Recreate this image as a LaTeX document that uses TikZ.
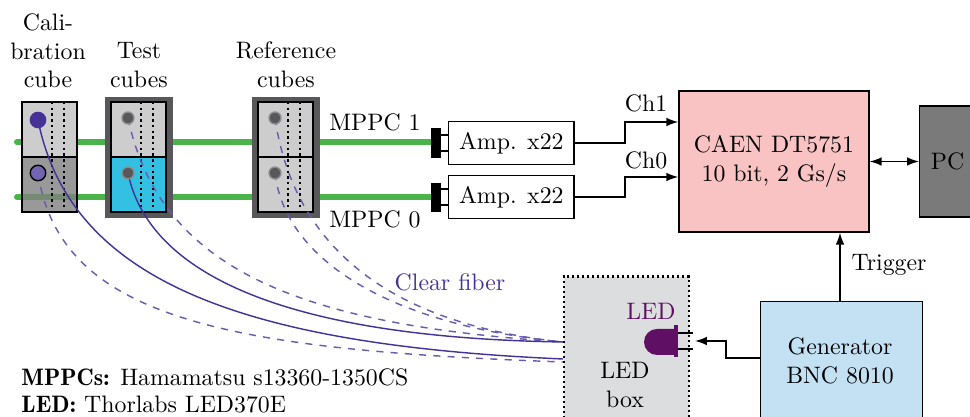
\documentclass[tikz,border=0pt]{standalone}
\usepackage{amsmath}
\usepackage{tikz}
\usetikzlibrary{arrows.meta,positioning,calc,shapes}
\definecolor{fibergreen}{RGB}{74,180,75}
\definecolor{fiberpurple}{RGB}{70,50,150}
\definecolor{ledpurple}{RGB}{95,15,100}
\definecolor{cubegray}{RGB}{205,205,205}
\definecolor{framegray}{RGB}{88,88,90}
\definecolor{testblue}{RGB}{52,192,226}
\definecolor{caenpink}{RGB}{250,195,195}
\definecolor{genblue}{RGB}{195,225,243}
\definecolor{boxgray}{RGB}{220,221,223}
\tikzset{
  cube/.style={draw=black,thick,fill=cubegray,minimum width=23.1pt,minimum height=23.1pt,inner sep=0pt},
  cubeframe/.style={fill=framegray,draw=framegray},
  sipm/.style={circle,fill=framegray,draw=black!45,semithick,minimum size=5pt,inner sep=0pt},
  solidfiber/.style={fiberpurple,semithick},
  dashfiber/.style={fiberpurple!80,semithick,dashed},
  wire/.style={draw,semithick,-{Latex[length=5pt,width=3.6pt]}},
  ampbox/.style={draw,semithick,minimum width=52.6pt,minimum height=18.2pt,inner sep=0pt}
}
\begin{document}
\begin{tikzpicture}[x=0.42pt,y=-0.42pt]
\useasboundingbox (0,0) rectangle (970,417);
\clip (0,0) rectangle (970,417);
%fibers
\draw[fibergreen,line width=2.5pt,line cap=round](17,142)--(435,142);
\draw[fibergreen,line width=2.5pt,line cap=round](17,197)--(435,197);
%calibration cube
\node[cube] (calup) at (49.5,129.5) {};
\node[cube,fill=black!50,fill opacity=.8] (callow) at (49.5,184.5) {};
%frames of test and reference cubes
\fill[cubeframe](105,97)rectangle(172,217);
\fill[cubeframe](252,97)rectangle(319,217);
\node[cube] (testup) at (138.5,129.5) {};
\node[cube,fill=testblue] (testlow) at (138.5,184.5) {};
\node[cube] (refup) at (285.5,129.5) {};
\node[cube] (reflow) at (285.5,184.5) {};
%dotted lines in cubes
\foreach \x in {52,64,141,153,288,300}
{
\draw[line width=.8pt,dash pattern=on 1pt off 1.4pt](\x,102)--(\x,212);
}
%clear fibers
\coordinate (ledin1) at (563,342);
\coordinate (ledin2) at (563,359);
\coordinate (ledin3) at (563,362);
\draw[dashfiber](128,118) .. controls (160,270) and (300,325) .. (ledin1);
\draw[dashfiber](275,118) .. controls (295,255) and (400,325) .. (ledin1);
\draw[dashfiber](275,173) .. controls (285,260) and (390,325) .. (ledin1);
\draw[dashfiber](38,173) .. controls (60,320) and (230,350) .. (ledin3);
\draw[solidfiber](38,120) .. controls (70,280) and (240,345) .. (ledin2);
\draw[solidfiber](128,173) .. controls (150,280) and (300,338) .. (ledin1);
%cube readouts
\node[circle,fill=fiberpurple,minimum size=7pt,inner sep=0pt] (called) at (38,120) {};
\node[circle,fill=fiberpurple!75,draw=black,semithick,minimum size=6.5pt,inner sep=0pt] (calmppc) at (38,173) {};
\node[sipm] (testa) at (128,118) {};
\node[sipm] (testb) at (128,173) {};
\node[sipm] (refa) at (275,118) {};
\node[sipm] (refb) at (275,173) {};
%labels
\node[align=center] at (48,51) {Cali-\\bration\\cube};
\node[align=center] at (139,65) {Test\\cubes};
\node[align=center] at (286,65) {Reference\\cubes};
\node at (375,122) {MPPC 1};
\node at (375,219) {MPPC 0};
\node[fiberpurple] at (450,282) {Clear fiber};
%amplifiers
\node[ampbox,anchor=west] (amp1) at (448,143) {Amp. x22};
\node[ampbox,anchor=west] (amp0) at (448,197) {Amp. x22};
\fill (431,128)rectangle(441,158);
\fill (431,183)rectangle(441,212);
\draw[semithick](441,135)--(448,135) (441,151)--(448,151);
\draw[semithick](441,189)--(448,189) (441,205)--(448,205);
%digitizer and pc
\node[draw,semithick,fill=caenpink,minimum width=79.8pt,minimum height=59.2pt,inner sep=0pt,align=center] (caen) at (774,161.5) {CAEN DT5751\\10 bit, 2 Gs/s};
\node[draw,semithick,fill=black!52,minimum width=25pt,minimum height=46.6pt,inner sep=0pt,anchor=west] (pc) at (919,161.5) {\hspace*{-1.6pt}PC\hfill};
\draw[wire,{Latex[length=5pt,width=3.6pt]}-{Latex[length=5pt,width=3.6pt]}](caen)--(pc);
\coordinate (ch1) at (caen.west|-0,122);
\coordinate (ch0) at (caen.west|-0,177);
\draw[wire](amp1.east)--(625,143)--(625,122)--(ch1);
\draw[wire](amp0.east)--(625,197)--(625,177)--(ch0);
\node at (646,103) {Ch1};
\node at (646,160) {Ch0};
%led box and generator
\node[draw,line width=.9pt,dash pattern=on .9pt off 1.2pt,fill=boxgray,minimum width=52.5pt,minimum height=61pt,inner sep=0pt,anchor=north west] (ledbox) at (562.5,275.5) {};
\node at (625,385) [align=center] {LED\\box};
\node[draw,semithick,fill=genblue,minimum width=68pt,minimum height=50pt,inner sep=0pt,anchor=north west,text depth=0pt] (gen) at (760,301) {};
\node[align=center] at (840,361) {Generator\\BNC 8010};
\draw[wire](gen.north-|840,0)--(caen.south-|840,0);
\node at (889,265) {Trigger};
%led
\fill[ledpurple](676,329)--(657,329) arc (90:270:13*0.42pt and 13*0.42pt)--(676,355)--cycle;
\fill[ledpurple](674,325)rectangle(678,357);
\draw[thick](678,333)--(693,333) (678,349)--(693,349);
\node[ledpurple] at (651,311) {LED};
\coordinate (ledarrow) at (695,341);
\draw[wire](gen.west|-0,358)--(726,358)--(726,341)--(ledarrow);
%notes
\node[anchor=base west,inner sep=0pt] at (21,386) {{\fontseries{b}\selectfont MPPCs:} Hamamatsu s13360-1350CS};
\node[anchor=base west,inner sep=0pt] at (21,413) {{\fontseries{b}\selectfont LED:} Thorlabs LED370E};
\end{tikzpicture}
\end{document}
